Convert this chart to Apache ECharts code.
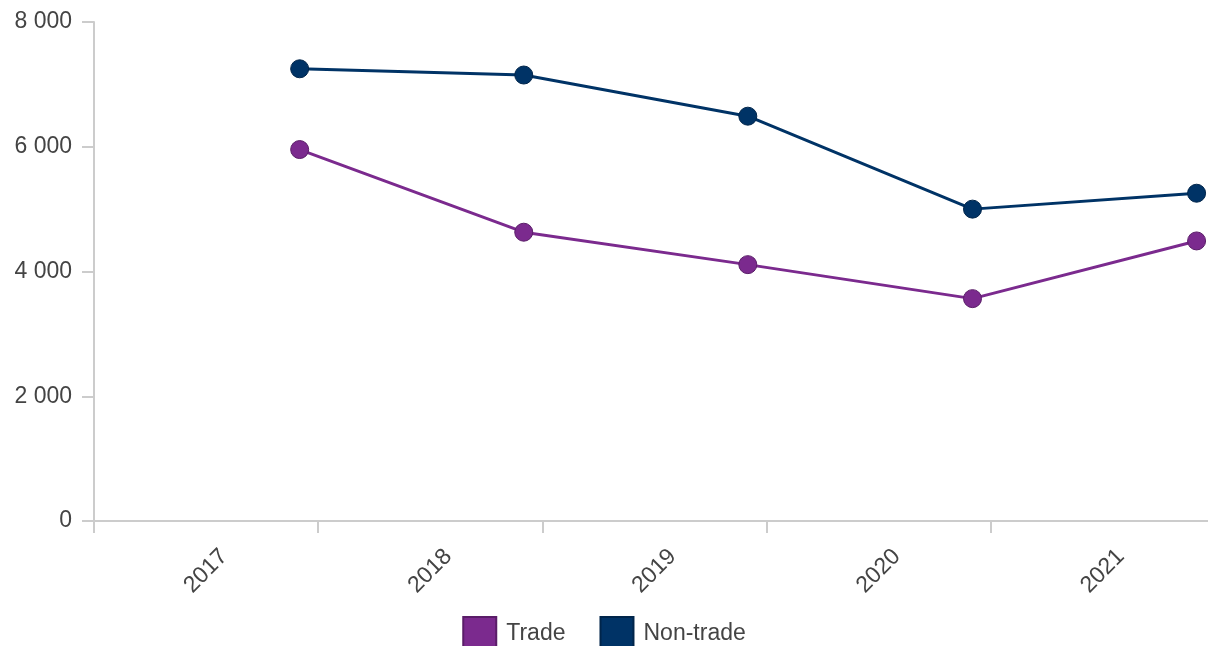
<!DOCTYPE html>
<html>
<head>
<meta charset="utf-8">
<script src="https://cdn.jsdelivr.net/npm/echarts@6/dist/echarts.min.js"></script>
<style>
html,body{margin:0;padding:0;background:#fff;}
#chart{width:1208px;height:646px;}
</style>
</head>
<body>
<div id="chart"></div>
<script>
var years = ['2017', '2018', '2019', '2020', '2021'];
var dates = ['2017-12-02', '2018-12-02', '2019-12-02', '2020-12-02', '2021-12-02'];
var trade = [5955, 4630, 4110, 3565, 4490];
var nonTrade = [7250, 7150, 6490, 5000, 5255];

function pairs(xs, ys) {
  return xs.map(function (d, i) { return [d, ys[i]]; });
}
function fmt(v) {
  return String(v).replace(/\B(?=(\d{3})+(?!\d))/g, ' ');
}

var chart = echarts.init(document.getElementById('chart'), null, {renderer: 'canvas'});
var font = 'Liberation Sans, Arial, sans-serif';
chart.setOption({
  animation: false,
  textStyle: {fontFamily: font},
  grid: {left: 94, right: -7, top: 22, bottom: 125, containLabel: false, outerBoundsMode: 'none'},
  legend: {
    top: 611,
    left: 'center',
    icon: 'rect',
    itemWidth: 33,
    itemHeight: 33,
    itemGap: 34,
    textStyle: {fontSize: 23, color: '#444', fontFamily: font, padding: [0, 0, 0, 5]},
    data: ['Trade', 'Non-trade']
  },
  xAxis: [{
    type: 'category',
    data: years,
    boundaryGap: true,
    axisLine: {lineStyle: {color: '#cccccc', width: 2}},
    axisTick: {show: true, length: 12, lineStyle: {color: '#cccccc', width: 2}},
    axisLabel: {rotate: 45, fontSize: 23, color: '#444', margin: 14, fontFamily: font, interval: 0,
      verticalAlign: 'top', padding: [14, 0, 0, 0]},
    splitLine: {show: false}
  }, {
    type: 'time',
    min: '2017-01-01',
    max: '2022-01-01',
    show: false
  }],
  yAxis: {
    type: 'value',
    min: 0,
    max: 8000,
    interval: 2000,
    axisLine: {show: true, lineStyle: {color: '#cccccc', width: 2}},
    axisTick: {show: true, length: 12, lineStyle: {color: '#cccccc', width: 2}},
    axisLabel: {fontSize: 23, color: '#444', margin: 22, fontFamily: font, formatter: function (v) { return fmt(v); }},
    splitLine: {show: false}
  },
  series: [{
    name: 'Trade',
    type: 'line',
    xAxisIndex: 1,
    data: pairs(dates, trade),
    symbol: 'circle',
    symbolSize: 18,
    lineStyle: {color: '#7b2a8e', width: 3},
    itemStyle: {color: '#7b2a8e', borderColor: '#5a1d68', borderWidth: 1},
    z: 3
  }, {
    name: 'Non-trade',
    type: 'line',
    xAxisIndex: 1,
    data: pairs(dates, nonTrade),
    symbol: 'circle',
    symbolSize: 18,
    lineStyle: {color: '#003366', width: 3},
    itemStyle: {color: '#003366', borderColor: '#00254a', borderWidth: 1},
    z: 3
  }]
});
</script>
</body>
</html>
